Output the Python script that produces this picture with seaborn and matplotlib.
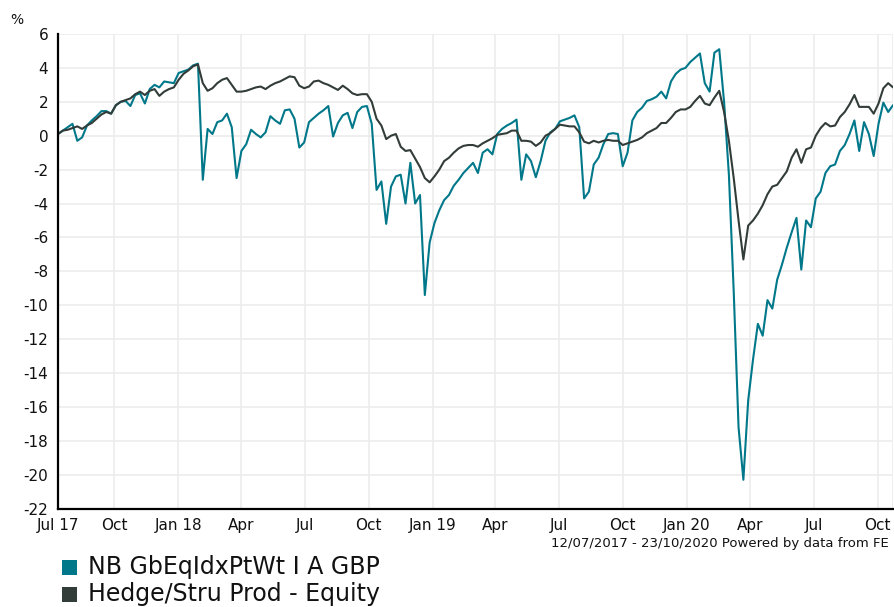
import matplotlib
matplotlib.use("Agg")
import matplotlib.pyplot as plt
import matplotlib.dates as mdates
from matplotlib.patches import Rectangle
import numpy as np
import pandas as pd
import seaborn as sns

# ---- data (cumulative % performance) ----
start_date = "2017-07-12"
end_date = "2020-10-23"
n_points = 174  # sampling grid across the period (about weekly)

fund_name = "NB GbEqIdxPtWt I A GBP"
sector_name = "Hedge/Stru Prod - Equity"

fund_values = [
    0.1, 0.3, 0.5, 0.7, -0.3, -0.1, 0.6, 0.9, 1.15, 1.45,
    1.45, 1.3, 1.8, 2.0, 2.05, 1.75, 2.4, 2.5, 1.9, 2.75,
    3.0, 2.85, 3.2, 3.15, 3.1, 3.7, 3.8, 3.9, 4.15, 4.25,
    -2.6, 0.4, 0.1, 0.8, 0.9, 1.3, 0.5, -2.5, -0.9, -0.5,
    0.35, 0.1, -0.1, 0.2, 1.15, 0.9, 0.7, 1.5, 1.55, 1.0,
    -0.7, -0.4, 0.8, 1.05, 1.3, 1.5, 1.75, -0.05, 0.75, 1.2,
    1.35, 0.45, 1.4, 1.7, 1.75, 0.7, -3.2, -2.7, -5.2, -3.0,
    -2.4, -2.3, -4.0, -1.6, -4.0, -3.5, -9.4, -6.3, -5.15, -4.4,
    -3.8, -3.5, -2.95, -2.6, -2.2, -1.9, -1.6, -2.2, -1.0, -0.8,
    -1.1, 0.1, 0.4, 0.6, 0.75, 0.95, -2.6, -1.1, -1.5, -2.45,
    -1.5, -0.3, 0.2, 0.4, 0.85, 0.95, 1.05, 1.2, 0.5, -3.7,
    -3.3, -1.7, -1.3, -0.5, 0.1, 0.15, 0.1, -1.8, -1.0, 0.9,
    1.4, 1.65, 2.05, 2.15, 2.3, 2.6, 2.2, 3.2, 3.65, 3.9,
    4.0, 4.35, 4.6, 4.85, 3.1, 2.6, 4.9, 5.1, 2.0, -2.3,
    -9.2, -17.2, -20.3, -15.6, -13.2, -11.1, -11.8, -9.7, -10.2, -8.5,
    -7.6, -6.6, -5.7, -4.85, -7.9, -5.0, -5.4, -3.7, -3.3, -2.2,
    -1.8, -1.7, -0.9, -0.55, 0.1, 0.9, -0.9, 0.8, 0.1, -1.2,
    0.7, 1.95, 1.4, 1.8,
]

sector_values = [
    0.1, 0.3, 0.35, 0.45, 0.55, 0.4, 0.6, 0.75, 1.0, 1.25,
    1.4, 1.3, 1.8, 2.0, 2.1, 2.2, 2.45, 2.6, 2.4, 2.65,
    2.75, 2.35, 2.6, 2.75, 2.85, 3.3, 3.65, 3.85, 4.1, 4.2,
    3.1, 2.65, 2.8, 3.1, 3.3, 3.4, 3.0, 2.6, 2.6, 2.65,
    2.75, 2.85, 2.9, 2.75, 2.95, 3.1, 3.2, 3.35, 3.5, 3.45,
    2.95, 2.8, 2.9, 3.2, 3.25, 3.1, 3.0, 2.85, 2.7, 2.95,
    2.75, 2.5, 2.4, 2.45, 2.45, 2.0, 1.0, 0.6, -0.2, 0.0,
    0.1, -0.65, -0.9, -0.85, -1.35, -1.85, -2.5, -2.75, -2.4, -2.0,
    -1.5, -1.3, -1.0, -0.75, -0.6, -0.55, -0.55, -0.65, -0.45, -0.3,
    -0.15, 0.05, 0.1, 0.15, 0.3, 0.3, -0.3, -0.3, -0.35, -0.6,
    -0.4, 0.0, 0.15, 0.4, 0.65, 0.6, 0.55, 0.55, 0.2, -0.35,
    -0.45, -0.3, -0.4, -0.3, -0.25, -0.3, -0.3, -0.55, -0.45, -0.35,
    -0.25, -0.1, 0.15, 0.3, 0.45, 0.75, 0.75, 1.05, 1.4, 1.55,
    1.55, 1.7, 2.05, 2.35, 1.9, 1.8, 2.25, 2.65, 1.4, -0.3,
    -2.5, -5.0, -7.3, -5.3, -5.0, -4.6, -4.1, -3.45, -3.0, -2.9,
    -2.5, -2.1, -1.3, -0.8, -1.6, -0.8, -0.7, 0.0, 0.45, 0.75,
    0.55, 0.6, 1.1, 1.4, 1.85, 2.4, 1.7, 1.7, 1.7, 1.3,
    1.9, 2.8, 3.1, 2.85,
]

tick_dates = ["2017-07-12", "2017-10-01", "2018-01-01", "2018-04-01", "2018-07-01",
              "2018-10-01", "2019-01-01", "2019-04-01", "2019-07-01", "2019-10-01",
              "2020-01-01", "2020-04-01", "2020-07-01", "2020-10-01", "2020-10-23"]
tick_labels = ["Jul 17", "Oct", "Jan 18", "Apr", "Jul", "Oct", "Jan 19", "Apr",
               "Jul", "Oct", "Jan 20", "Apr", "Jul", "Oct", ""]
y_ticks = list(range(-22, 7, 2))

footer = "12/07/2017 - 23/10/2020 Powered by data from FE"

teal = "#00788a"
dark = "#323c39"

# ---- build frame ----
dates = pd.date_range(start_date, end_date, periods=n_points)
df = pd.concat([
    pd.DataFrame({"date": dates, "value": fund_values, "series": fund_name}),
    pd.DataFrame({"date": dates, "value": sector_values, "series": sector_name}),
])

sns.set_theme(style="white")
plt.rcParams["font.family"] = ["DejaVu Sans"]

W, H = 894, 607
fig = plt.figure(figsize=(W / 100, H / 100), dpi=100)
ax = fig.add_axes([58 / W, 1 - 508.6 / H, (893 - 58) / W, (508.6 - 34) / H])

sns.lineplot(data=df, x="date", y="value", hue="series",
             palette={fund_name: teal, sector_name: dark},
             hue_order=[fund_name, sector_name],
             linewidth=1.5, ax=ax, legend=False, estimator=None)

ax.set_xlim(pd.Timestamp(start_date), pd.Timestamp(end_date))
ax.set_ylim(-22, 6)
ax.set_yticks(y_ticks)
ax.set_yticklabels([str(v) for v in y_ticks])
ax.set_xticks([pd.Timestamp(d) for d in tick_dates])
ax.set_xticklabels(tick_labels)
ax.set_xlabel("")
ax.set_ylabel("")

ax.grid(True, color="#ececec", linewidth=1.2)
ax.set_axisbelow(True)
for s in ["top", "right"]:
    ax.spines[s].set_visible(False)
for s in ["left", "bottom"]:
    ax.spines[s].set_color("black")
    ax.spines[s].set_linewidth(1.6)
ax.tick_params(axis="both", which="major", direction="out", length=4,
               width=1.4, color="black", labelsize=11, labelcolor="#111111", pad=3)

fig.text(10 / W, 1 - 20 / H, "%", fontsize=10, color="#111111", va="center", ha="left")
fig.text(889 / W, 1 - 543 / H, footer, fontsize=9.5, color="#111111",
         ha="right", va="center")

# legend
for i, (name, col) in enumerate([(fund_name, teal), (sector_name, dark)]):
    yc = 567 + 27 * i
    fig.add_artist(Rectangle((62 / W, 1 - (yc + 8) / H), 15 / W, 15 / H,
                             transform=fig.transFigure, color=col, lw=0))
    fig.text(88 / W, 1 - yc / H, name, fontsize=17.0, color="#111111",
             ha="left", va="center")

fig.savefig("out.png", dpi=100)
